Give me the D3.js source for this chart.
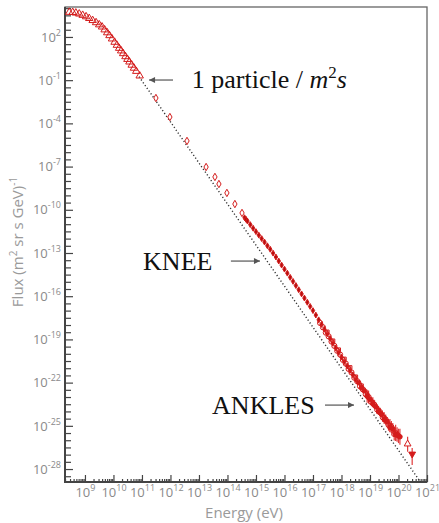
<!DOCTYPE html>
<html>
<head>
<meta charset="utf-8">
<script src="https://cdn.jsdelivr.net/npm/d3@7"></script>
<style>
  body { margin: 0; background: #fff; }
  .tick text { font-family: 'Open Sans', sans-serif; fill: #8a8a8a; font-size: 13px; }
  .axis-title { font-family: 'Open Sans', sans-serif; fill: #9a9a9a; font-size: 15px; }
  .note { font-family: 'Liberation Serif', serif; fill: #111; font-size: 26px; }
</style>
</head>
<body>
<div class="dataviz"></div>
<script>
// all values as log10(E / eV) and log10(flux)

// direct measurements (open triangles)
const directLogE = [8.45, 8.57, 8.68, 8.80, 8.92, 9.04, 9.15, 9.27, 9.39, 9.50, 9.60, 9.69, 9.78, 9.86,
  9.95, 10.04, 10.12, 10.20, 10.27, 10.34, 10.42, 10.49, 10.56, 10.64, 10.72, 10.80, 10.92]
const directLogFlux = [3.72, 3.71, 3.67, 3.60, 3.51, 3.41, 3.29, 3.15, 3.00, 2.85, 2.70, 2.50, 2.30, 2.10,
  1.87, 1.64, 1.43, 1.22, 1.04, 0.85, 0.64, 0.45, 0.27, 0.05, -0.16, -0.38, -0.70]

// balloon / satellite (open diamonds)
const balloonLogE = [11.49, 11.98, 12.58, 13.25, 13.56, 13.70, 13.98, 14.26, 14.51]
const balloonLogFlux = [-2.24, -3.56, -5.22, -7.03, -7.72, -8.21, -8.83, -9.60, -10.22]

// air showers (small filled diamonds)
const showerLogE = [14.6, 14.65, 14.7, 14.8, 14.9, 15.0, 15.1, 15.2, 15.3, 15.4, 15.5, 15.6, 15.7, 15.8,
  15.9, 16.0, 16.1, 16.2, 16.3, 16.4, 16.5, 16.6, 16.7, 16.8, 16.9, 17.0, 17.1, 17.2, 17.3, 17.4, 17.5,
  17.6, 17.7, 17.8, 17.9, 18.0, 18.1, 18.2, 18.3, 18.4, 18.5]
const showerLogFlux = [-10.55, -10.66, -10.78, -11.03, -11.28, -11.52, -11.76, -12.00, -12.24, -12.50,
  -12.74, -13.01, -13.28, -13.56, -13.84, -14.12, -14.40, -14.69, -14.97, -15.26, -15.55, -15.84, -16.13,
  -16.42, -16.71, -17.00, -17.31, -17.64, -17.96, -18.29, -18.61, -18.94, -19.26, -19.59, -19.91, -20.23,
  -20.54, -20.85, -21.15, -21.46, -21.76]

// ultra high energy, open circles with error bars (decades)
const uheOpenLogE = [17.25, 17.35, 17.45, 17.55, 17.65, 17.75, 17.85, 17.95, 18.05, 18.15, 18.25, 18.35,
  18.45, 18.55, 18.65, 18.75, 18.85, 18.95, 19.05, 19.15, 19.25, 19.35, 19.45, 19.55, 19.65, 19.75, 19.85, 19.95]
const uheOpenLogFlux = [-17.86, -18.16, -18.53, -18.79, -19.15, -19.45, -19.79, -20.05, -20.42, -20.68,
  -21.05, -21.29, -21.66, -21.90, -22.25, -22.47, -22.80, -23.00, -23.35, -23.53, -23.86, -24.04, -24.41,
  -24.57, -24.94, -25.08, -25.57, -25.60]
const uheOpenErr = [0.06, 0.06, 0.06, 0.07, 0.07, 0.07, 0.08, 0.08, 0.08, 0.09, 0.10, 0.10, 0.11, 0.12,
  0.14, 0.15, 0.18, 0.45, 0.22, 0.25, 0.28, 0.30, 0.32, 0.36, 0.40, 0.42, 0.45, 0.50]

// ultra high energy, filled circles with error bars
const uheFilledLogE = [18.6, 18.7, 18.8, 18.9, 19.0, 19.1, 19.2, 19.3, 19.4, 19.5, 19.6, 19.7, 19.8, 19.9, 20.0, 20.05]
const uheFilledLogFlux = [-21.99, -22.35, -22.56, -22.94, -23.15, -23.47, -23.66, -24.02, -24.19, -24.55,
  -24.70, -25.10, -25.21, -25.61, -25.70, -25.76]
const uheFilledErr = [0.08, 0.10, 0.12, 0.45, 0.15, 0.18, 0.20, 0.22, 0.25, 0.28, 0.32, 0.35, 0.40, 0.45, 0.50, 0.55]

// ultra high energy, open squares with error bars
const uheSquareLogE = [17.5, 17.7, 17.9, 18.1, 18.3, 18.5, 18.7, 18.9, 19.1, 19.3, 19.5, 19.7, 19.9]
const uheSquareLogFlux = [-18.48, -19.10, -19.72, -20.36, -20.95, -21.60, -22.22, -22.86, -23.36, -23.92,
  -24.45, -24.98, -25.48]
const uheSquareErr = [0.07, 0.08, 0.09, 0.10, 0.12, 0.15, 0.20, 0.30, 0.35, 0.30, 0.40, 0.45, 0.55]

// highest energy points: open triangle and upper limit
const topLogE = [20.32]
const topLogFlux = [-26.26]
const topErrLo = [-26.80]
const topErrHi = [-25.76]
const limitLogE = [20.48]
const limitLogFlux = [-26.96]
const limitErrLo = [-27.72]
const limitErrHi = [-26.54]

// reference power law (dotted)
const powerLawLogE = [10.9, 20.77]
const powerLawLogFlux = [-0.76, -28.9]

// ticks
const xTickExponents = [9, 10, 11, 12, 13, 14, 15, 16, 17, 18, 19, 20, 21]
const yTickExponents = [2, -1, -4, -7, -10, -13, -16, -19, -22, -25, -28]

// annotations: text anchors [logE, logFlux], arrows [fromLogE, toLogE, logFlux]
const noteTexts = ['1 particle / ', 'KNEE', 'ANKLES']
const noteAnchors = [[12.75, -1.54], [11.04, -14.18], [13.46, -24.18]]
const arrowSpans = [[12.09, 11.25, -0.99], [14.12, 15.14, -13.56], [17.42, 18.44, -23.56]]

const W = 439
const H = 523
const plotLeft = 65
const plotRight = 427
const plotTop = 7
const plotBottom = 482
const red = '#d41c1c'

const svg = d3.select('.dataviz').append('svg').attr('width', W).attr('height', H)

const xScale = d3.scaleLog().domain([10 ** 8.3, 1e21]).range([plotLeft, plotRight])
const yScale = d3.scaleLog().domain([10 ** -28.9, 10 ** 4.08]).range([plotBottom, plotTop])

const px = e => xScale(10 ** e)
const py = f => yScale(10 ** f)

const defs = svg.append('defs')
defs.append('clipPath').attr('id', 'plot')
  .append('rect').attr('x', plotLeft).attr('y', plotTop)
  .attr('width', plotRight - plotLeft).attr('height', plotBottom - plotTop)

defs.append('marker')
  .attr('id', 'head')
  .attr('viewBox', '0 0 10 10')
  .attr('refX', 10).attr('refY', 5)
  .attr('markerWidth', 8).attr('markerHeight', 6)
  .attr('markerUnits', 'userSpaceOnUse')
  .attr('orient', 'auto')
  .append('path').attr('d', 'M0,0L10,5L0,10Z').attr('fill', '#555')

// frame
svg.append('rect')
  .attr('x', plotLeft).attr('y', plotTop)
  .attr('width', plotRight - plotLeft).attr('height', plotBottom - plotTop)
  .attr('fill', 'none').attr('stroke', '#666').attr('stroke-width', 1.3)

// axes
const expLabel = (sel, fmt) => sel.each(function (d) {
  const t = d3.select(this)
  const exp = fmt(d)
  t.text(null)
  if (exp === null) return
  t.append('tspan').text('10')
  t.append('tspan').attr('dy', '-6').attr('font-size', '9px').text(exp)
})

const xMinor = []
d3.range(8, 21).forEach(e => d3.range(2, 10).forEach(m => {
  const v = m * 10 ** e
  if (v > xScale.domain()[0] && v < 1e21) xMinor.push(v)
}))

svg.append('g').attr('transform', `translate(0,${plotBottom})`)
  .call(d3.axisBottom(xScale).tickValues(xMinor).tickSize(-3).tickFormat(''))
const xMajorAxis = svg.append('g').attr('transform', `translate(0,${plotBottom})`)
  .call(d3.axisBottom(xScale).tickValues(xTickExponents.map(e => 10 ** e)).tickSize(-7).tickPadding(6))
xMajorAxis.selectAll('.tick text').call(expLabel, d => String(Math.round(Math.log10(d))))

const yTicks = d3.range(-28.5, 4.01, 0.5).map(e => 10 ** e)
const yAxis = svg.append('g').attr('transform', `translate(${plotLeft},0)`)
  .call(d3.axisLeft(yScale).tickValues(yTicks).tickSize(-6).tickPadding(4))
yAxis.selectAll('.tick text').call(expLabel, d => {
  const e = Math.round(Math.log10(d) * 2) / 2
  return yTickExponents.includes(e) ? String(e) : null
})
yAxis.selectAll('.tick').filter(d => yTickExponents.includes(Math.round(Math.log10(d) * 2) / 2))
  .select('line').attr('x2', 8)

svg.selectAll('.domain').remove()
svg.selectAll('.tick line').attr('stroke', '#444').attr('stroke-width', 1.2)

svg.append('line').attr('x1', plotLeft).attr('x2', plotLeft).attr('y1', plotTop).attr('y2', plotBottom + 1)
  .attr('stroke', '#444').attr('stroke-width', 2)
svg.append('line').attr('x1', plotLeft - 1).attr('x2', plotRight).attr('y1', plotBottom).attr('y2', plotBottom)
  .attr('stroke', '#444').attr('stroke-width', 2)

// axis titles
svg.append('text').attr('class', 'axis-title')
  .attr('x', 244).attr('y', 518).attr('text-anchor', 'middle')
  .text('Energy (eV)')

const yTitle = svg.append('text').attr('class', 'axis-title')
  .attr('transform', 'translate(23,242) rotate(-90)')
  .attr('text-anchor', 'middle')
yTitle.append('tspan').text('Flux (m')
yTitle.append('tspan').attr('dy', '-6').attr('font-size', '10px').text('2')
yTitle.append('tspan').attr('dy', '6').text(' sr s GeV)')
yTitle.append('tspan').attr('dy', '-6').attr('font-size', '10px').text('-1')

const plot = svg.append('g').attr('clip-path', 'url(#plot)')

// reference power law
plot.append('path')
  .datum(powerLawLogE.map((e, i) => [e, powerLawLogFlux[i]]))
  .attr('d', d3.line().x(d => px(d[0])).y(d => py(d[1])))
  .attr('fill', 'none')
  .attr('stroke', '#333')
  .attr('stroke-width', 1.4)
  .attr('stroke-dasharray', '1.2,2.2')

const zip = (es, fs) => es.map((e, i) => ({ e, f: fs[i], i }))

const drawSymbols = (data, type, size, fill, rotate) => {
  plot.append('g').selectAll('path')
    .data(data)
    .join('path')
    .attr('d', d3.symbol().type(type).size(size))
    .attr('transform', d => `translate(${px(d.e)},${py(d.f)})${rotate ? ' rotate(180)' : ''}`)
    .attr('fill', fill)
    .attr('stroke', red)
    .attr('stroke-width', 1)
}

const drawErrors = (data, lo, hi) => {
  plot.append('g').selectAll('line')
    .data(data)
    .join('line')
    .attr('x1', d => px(d.e)).attr('x2', d => px(d.e))
    .attr('y1', d => py(lo(d))).attr('y2', d => py(hi(d)))
    .attr('stroke', '#e03a3a')
    .attr('stroke-width', 1.2)
}

// direct measurements
drawSymbols(zip(directLogE, directLogFlux), d3.symbolTriangle, 24, 'none')

// balloon / satellite
drawSymbols(zip(balloonLogE, balloonLogFlux), d3.symbolDiamond, 16, '#fff')

// air showers
drawSymbols(zip(showerLogE, showerLogFlux), d3.symbolDiamond, 10, '#b80e0e')

// ultra high energy
const uheOpen = zip(uheOpenLogE, uheOpenLogFlux)
const uheFilled = zip(uheFilledLogE, uheFilledLogFlux)
const uheSquare = zip(uheSquareLogE, uheSquareLogFlux)
drawErrors(uheOpen, d => d.f - uheOpenErr[d.i], d => d.f + uheOpenErr[d.i])
drawErrors(uheFilled, d => d.f - uheFilledErr[d.i], d => d.f + uheFilledErr[d.i])
drawErrors(uheSquare, d => d.f - uheSquareErr[d.i], d => d.f + uheSquareErr[d.i])
drawSymbols(uheSquare, d3.symbolSquare, 14, 'none')
plot.append('g').selectAll('circle')
  .data(uheOpen)
  .join('circle')
  .attr('cx', d => px(d.e)).attr('cy', d => py(d.f)).attr('r', 2.6)
  .attr('fill', 'none').attr('stroke', red)
plot.append('g').selectAll('circle')
  .data(uheFilled)
  .join('circle')
  .attr('cx', d => px(d.e)).attr('cy', d => py(d.f)).attr('r', 2.3)
  .attr('fill', red).attr('stroke', red)

const topPts = zip(topLogE, topLogFlux)
const limitPts = zip(limitLogE, limitLogFlux)
drawErrors(topPts, d => topErrLo[d.i], d => topErrHi[d.i])
drawErrors(limitPts, d => limitErrLo[d.i], d => limitErrHi[d.i])
drawSymbols(topPts, d3.symbolTriangle, 20, '#fff')
drawSymbols(limitPts, d3.symbolTriangle, 20, red, true)

// annotations
arrowSpans.forEach(a => {
  svg.append('line')
    .attr('x1', px(a[0])).attr('x2', px(a[1]))
    .attr('y1', py(a[2])).attr('y2', py(a[2]))
    .attr('stroke', '#555').attr('stroke-width', 1.2)
    .attr('marker-end', 'url(#head)')
})

noteTexts.forEach((txt, i) => {
  const t = svg.append('text').attr('class', 'note')
    .attr('x', px(noteAnchors[i][0])).attr('y', py(noteAnchors[i][1]))
  t.append('tspan').text(txt)
  if (i === 0) {
    t.attr('font-size', '27px')
    t.append('tspan').attr('font-style', 'italic').text('m')
    t.append('tspan').attr('dy', '-10').attr('font-size', '17px').text('2')
    t.append('tspan').attr('dy', '10').attr('font-style', 'italic').text('s')
  }
})
</script>
</body>
</html>
